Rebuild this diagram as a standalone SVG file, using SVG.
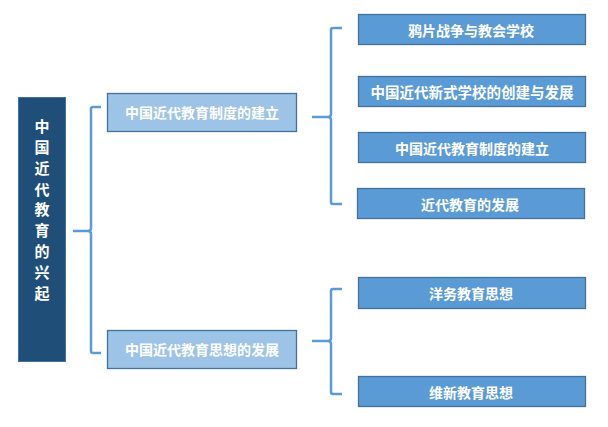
<svg xmlns="http://www.w3.org/2000/svg" width="608" height="427" viewBox="0 0 608 427">
<style>
.root{fill:#1F4E79;stroke:#41719C;stroke-width:1}
.l1{fill:#9DC3E6;stroke:#41719C;stroke-width:1.3}
.l2{fill:#5B9BD5;stroke:#41719C;stroke-width:1.3}
.t{font-family:"Noto Sans CJK SC","Liberation Sans",sans-serif;fill:#fff;font-weight:bold;text-anchor:middle;dominant-baseline:central}
.br{fill:none;stroke:#5B9BD5;stroke-width:2.5;stroke-linejoin:round}
</style>
<rect width="608" height="427" fill="#fff"/>
<g id="connectors">
<path class="br" d="M101,107 H93 Q91,107 91,109 V228 Q91,231 88,231 H73 M88,231 Q91,231 91,234 V351 Q91,353 93,353 H101"/>
<path class="br" d="M342,28 H333 Q331,28 331,30 V114 Q331,117 328,117 H312 M328,117 Q331,117 331,120 V202 Q331,204 333,204 H342"/>
<path class="br" d="M342,289 H333 Q331,289 331,291 V338 Q331,341 328,341 H312 M328,341 Q331,341 331,344 V392 Q331,394 333,394 H342"/>
</g>
<g id="root">
<rect class="root" x="18.5" y="97.5" width="47" height="264"/>
<text class="t" font-size="15" x="42"><tspan x="42" y="125">中</tspan><tspan x="42" y="146">国</tspan><tspan x="42" y="167">近</tspan><tspan x="42" y="187.5">代</tspan><tspan x="42" y="208">教</tspan><tspan x="42" y="229">育</tspan><tspan x="42" y="250">的</tspan><tspan x="42" y="271">兴</tspan><tspan x="42" y="291.5">起</tspan></text>
</g>
<g id="n1">
<rect class="l1" x="107.5" y="93.5" width="189" height="38"/>
<text class="t" font-size="14" x="202" y="112">中国近代教育制度的建立</text>
</g>
<g id="n2">
<rect class="l1" x="107.5" y="330.5" width="189" height="38"/>
<text class="t" font-size="14" x="202" y="349">中国近代教育思想的发展</text>
</g>
<g id="n11">
<rect class="l2" x="358.5" y="14.5" width="227" height="30"/>
<text class="t" font-size="14" x="471" y="29.5">鸦片战争与教会学校</text>
</g>
<g id="n12">
<rect class="l2" x="358.5" y="76.5" width="227" height="30"/>
<text class="t" font-size="14.5" x="472" y="91.5">中国近代新式学校的创建与发展</text>
</g>
<g id="n13">
<rect class="l2" x="358.5" y="132.5" width="227" height="30"/>
<text class="t" font-size="14" x="472" y="147.5">中国近代教育制度的建立</text>
</g>
<g id="n14">
<rect class="l2" x="357.5" y="188.5" width="227" height="30"/>
<text class="t" font-size="14" x="470" y="203.5">近代教育的发展</text>
</g>
<g id="n21">
<rect class="l2" x="358.5" y="277.5" width="227" height="31"/>
<text class="t" font-size="14" x="471" y="293">洋务教育思想</text>
</g>
<g id="n22">
<rect class="l2" x="358.5" y="376.5" width="227" height="30"/>
<text class="t" font-size="14" x="471" y="391.5">维新教育思想</text>
</g>
</svg>
